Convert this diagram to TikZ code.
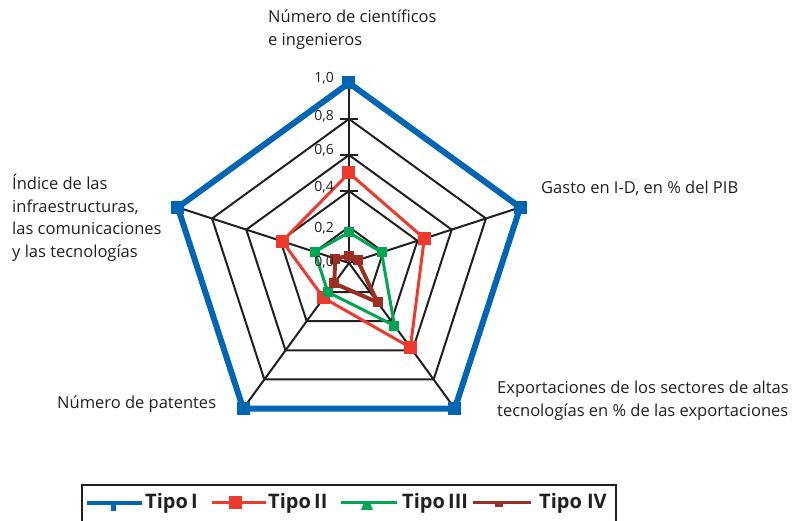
\documentclass[tikz,border=0pt]{standalone}
\usepackage{fontspec}
\setmainfont{Open Sans}
\usepackage{xcolor}
\usetikzlibrary{calc}
\usetikzlibrary{plotmarks}

\definecolor{azulI}{RGB}{0,102,179}
\definecolor{rojoII}{RGB}{238,58,44}
\definecolor{verdeIII}{RGB}{0,166,81}
\definecolor{marronIV}{RGB}{155,47,36}
\definecolor{negro}{RGB}{35,31,32}

\begin{document}
\begin{tikzpicture}[x=1pt,y=1pt,
	gridline/.style={negro,line width=2pt},
	tipoI/.style={azulI,line width=6pt,line join=miter},
	tipoII/.style={rojoII,line width=3pt},
	tipoIII/.style={verdeIII,line width=3pt},
	tipoIV/.style={marronIV,line width=4pt},
	etiqueta/.style={negro,font=\fontsize{16.5}{22.5}\selectfont,align=left,inner sep=0pt},
	escala/.style={negro,font=\fontsize{14}{16}\selectfont,inner sep=0pt,anchor=east},
	leyenda/.style={negro,font=\fontsize{20}{24}\selectfont\bfseries,inner sep=0pt,anchor=west}]
	\useasboundingbox (-349,-258) rectangle (444,263);
	% red y ejes
	\begin{scope}[x=180pt,y=180pt]
		\foreach \r in {0.2,0.4,0.6,0.8,1}
			\draw[gridline] (90:\r) -- (18:\r) -- (-54:\r) -- (-126:\r) -- (162:\r) -- cycle;
		\foreach \r in {0.4,0.6,0.8}
			\draw[gridline] ([xshift=-9pt]90:\r) -- ([xshift=9pt]90:\r);
		\foreach \a in {90,18,-54,-126,162}
			\draw[gridline] (0,0) -- (\a:1);
		\coordinate (centro) at (0,0);
		% series
		\draw[tipoI] plot[mark=square*,mark size=6pt,mark options={line width=0pt}]
			coordinates {(90:1) (18:1) (-54:1) (-126:1) (162:1)} -- cycle;
		\draw[tipoII] plot[mark=square*,mark size=6pt,mark options={line width=0pt}]
			coordinates {(90:0.5) (18:0.44) (-54:0.58) (-126:0.24) (162:0.39)} -- cycle;
		\draw[tipoIII] plot[mark=square*,mark size=4.5pt,mark options={line width=0pt}]
			coordinates {(90:0.17) (18:0.19) (-54:0.43) (-126:0.2) (162:0.2)} -- cycle;
		\draw[tipoIV] plot[mark=square*,mark size=4.5pt,mark options={line width=0pt}]
			coordinates {(90:0.04) (18:0.05) (-54:0.27) (-126:0.14) (162:0.08)} -- cycle;
	\end{scope}
	% valores del eje
	\node[escala] (v10) at (-15,185) {1,0};
	\node[escala] (v08) at (-15,147) {0,8};
	\node[escala] (v06) at (-15,113) {0,6};
	\node[escala] (v04) at (-15,76) {0,4};
	\node[escala] (v02) at (-15,35) {0,2};
	\node[escala] (v00) at (-15,1) {0,0};
	% etiquetas de los ejes
	\node[etiqueta,anchor=north west] (cientificos) at (-81,253) {Número de científicos\\e ingenieros};
	\node[etiqueta,anchor=west] (gasto) at (192,75) {Gasto en I-D, en \% del PIB};
	\node[etiqueta,anchor=north west] (indice) at (-337,89) {Índice de las\\infraestructuras,\\las comunicaciones\\y las tecnologías};
	\node[etiqueta,anchor=west] (patentes) at (-292,-141) {Número de patentes};
	\node[etiqueta,anchor=north west] (exportaciones) at (148,-118) {Exportaciones de los sectores de altas\\tecnologías en \% de las exportaciones};
	% leyenda
	\draw[negro,line width=1.5pt] (-267,-258) -- (-267,-222) -- (267,-222) -- (267,-258);
	\draw[azulI,line width=4pt] (-262,-240) -- (-207,-240);
	\fill[azulI] (-237.5,-240) rectangle (-232.5,-248);
	\node[leyenda] (leyI) at (-204,-240) {Tipo\,I};
	\draw[rojoII,line width=3pt] (-137,-240) -- (-83,-240);
	\fill[rojoII] (-119.5,-233.5) rectangle (-106.5,-246.5);
	\node[leyenda] (leyII) at (-81,-240) {Tipo\,II};
	\draw[verdeIII,line width=3pt] (-8,-240) -- (48,-240);
	\fill[verdeIII] (15,-240) -- (21,-240) -- (24,-247) -- (12,-247) -- cycle;
	\node[leyenda] (leyIII) at (53,-240) {Tipo\,III};
	\draw[marronIV,line width=3pt] (124,-240) -- (182,-240);
	\fill[marronIV] (146,-240) rectangle (154,-244);
	\node[leyenda] (leyIV) at (190,-240) {Tipo IV};
\end{tikzpicture}
\end{document}
